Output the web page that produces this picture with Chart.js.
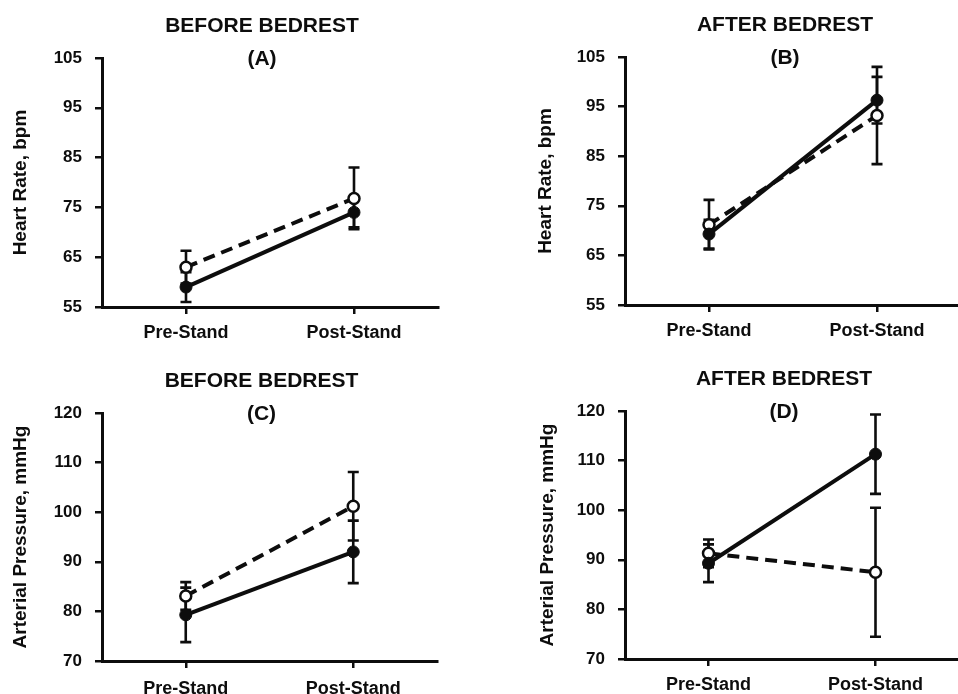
<!DOCTYPE html>
<html><head><meta charset="utf-8">
<script src="https://cdn.jsdelivr.net/npm/chart.js@4.4.1/dist/chart.umd.min.js"></script>
<style>
html,body{margin:0;padding:0;background:#fff;width:958px;height:694px;overflow:hidden;}
#wrap{position:relative;width:958px;height:694px;overflow:hidden;background:#fff;}
canvas{position:absolute;}
</style></head><body>
<div id="wrap">
<canvas id="cA" width="479" height="347" style="left:0px;top:0px"></canvas>
<canvas id="cB" width="482" height="347" style="left:479px;top:0px"></canvas>
<canvas id="cC" width="479" height="347" style="left:0px;top:347px"></canvas>
<canvas id="cD" width="480" height="347" style="left:479px;top:347px"></canvas>
</div>
<script>
// ---- data ----
const categories = ['Pre-Stand', 'Post-Stand'];
const hrTicks = [55, 65, 75, 85, 95, 105];
const mapTicks = [70, 80, 90, 100, 110, 120];

// Heart rate, before bedrest (A)
const hrBeforeFilled = [59, 74];
const hrBeforeFilledErr = [3, 3];
const hrBeforeOpen = [63, 76.8];
const hrBeforeOpenErr = [3.3, 6.2];
// Heart rate, after bedrest (B)
const hrAfterFilled = [69.3, 96.3];
const hrAfterFilledErr = [2.9, 4.7];
const hrAfterOpen = [71.2, 93.2];
const hrAfterOpenErr = [5, 9.8];
// Arterial pressure, before bedrest (C)
const mapBeforeFilled = [79.3, 92];
const mapBeforeFilledErr = [5.5, 6.3];
const mapBeforeOpen = [83.1, 101.2];
const mapBeforeOpenErr = [2.8, 6.9];
// Arterial pressure, after bedrest (D)
const mapAfterFilled = [89.3, 111.3];
const mapAfterFilledErr = [3.8, 8];
const mapAfterOpen = [91.3, 87.5];
const mapAfterOpenErr = [2.8, 13];

const INK = '#0d0d0d';
const FAM = '"Liberation Sans", Arial, Helvetica, sans-serif';

const errorBarPlugin = {
  id: 'errorBars',
  beforeDatasetsDraw(chart, args, opts) {
    const ctx = chart.ctx, ys = chart.scales.y;
    chart.data.datasets.forEach((ds, i) => {
      if (!ds.errors) return;
      const meta = chart.getDatasetMeta(i);
      meta.data.forEach((pt, j) => {
        const v = ds.data[j], e = ds.errors[j];
        const x = pt.x;
        const yt = ys.getPixelForValue(v + e), yb = ys.getPixelForValue(v - e);
        ctx.save();
        ctx.strokeStyle = INK; ctx.lineWidth = opts.width || 2.5;
        ctx.beginPath();
        ctx.moveTo(x, yt); ctx.lineTo(x, yb);
        ctx.moveTo(x - opts.cap, yt); ctx.lineTo(x + opts.cap, yt);
        ctx.moveTo(x - opts.cap, yb); ctx.lineTo(x + opts.cap, yb);
        ctx.stroke();
        ctx.restore();
      });
    });
  }
};

const panelTitlePlugin = {
  id: 'panelTitle',
  afterDraw(chart, args, opts) {
    const {ctx, chartArea} = chart;
    const cx = (chartArea.left + chartArea.right) / 2 + opts.dx;
    ctx.save();
    ctx.fillStyle = INK;
    ctx.font = 'bold 21px ' + FAM;
    ctx.textAlign = 'center';
    ctx.textBaseline = 'middle';
    ctx.fillText(opts.lines[0], cx, chartArea.top - 32);
    ctx.fillText(opts.lines[1], cx, chartArea.top + 1);
    ctx.restore();
  }
};

function makePanel(id, p) {
  const axisGrid = {display: true, drawOnChartArea: false, drawTicks: true, tickLength: 7, color: INK, lineWidth: 2.5};
  const axisBorder = {display: true, color: INK, width: 3};
  new Chart(document.getElementById(id), {
    type: 'line',
    data: {
      labels: categories,
      datasets: [
        {data: p.filled, errors: p.filledErr, borderColor: INK, backgroundColor: INK, borderWidth: 4,
         pointRadius: 6, pointBorderWidth: 1, pointBackgroundColor: INK, pointBorderColor: INK, tension: 0},
        {data: p.open, errors: p.openErr, borderColor: INK, backgroundColor: '#fff', borderWidth: 4, borderDash: [12, 7],
         pointRadius: 5.5, pointBorderWidth: 2.5, pointBackgroundColor: '#fff', pointBorderColor: INK, tension: 0}
      ]
    },
    options: {
      responsive: false, animation: false, devicePixelRatio: 1,
      layout: {autoPadding: false, padding: {left: p.padLeft, top: p.padTop, right: p.padRight, bottom: 0}},
      plugins: {
        legend: {display: false}, tooltip: {enabled: false},
        errorBars: {cap: 5.5, width: 2.6},
        panelTitle: {lines: p.title, dx: -8}
      },
      scales: {
        x: {
          type: 'category', offset: true,
          grid: axisGrid, border: axisBorder,
          ticks: {color: INK, font: {family: FAM, size: 18, weight: 'bold'}, padding: p.xPad, autoSkip: false, maxRotation: 0},
          afterFit(s) { s.height = p.xH; s.paddingLeft = 0; s.paddingRight = 0; }
        },
        y: {
          min: p.ticks[0], max: p.ticks[p.ticks.length - 1],
          grid: axisGrid, border: axisBorder,
          ticks: {stepSize: p.ticks[1] - p.ticks[0], color: INK, font: {family: FAM, size: 17, weight: 'bold'}, padding: 13},
          title: {display: true, text: p.yTitle, color: INK, font: {family: FAM, size: 19, weight: 'bold'}, padding: {top: 9, bottom: 0}},
          afterFit(s) { s.width = p.yW; }
        }
      }
    },
    plugins: [errorBarPlugin, panelTitlePlugin]
  });
}

makePanel('cA', {filled: hrBeforeFilled, filledErr: hrBeforeFilledErr, open: hrBeforeOpen, openErr: hrBeforeOpenErr,
  ticks: hrTicks, yTitle: 'Heart Rate, bpm', title: ['BEFORE BEDREST', '(A)'],
  padLeft: 0, yW: 102, padTop: 58, padRight: 41, xH: 40, xPad: 8});
makePanel('cB', {filled: hrAfterFilled, filledErr: hrAfterFilledErr, open: hrAfterOpen, openErr: hrAfterOpenErr,
  ticks: hrTicks, yTitle: 'Heart Rate, bpm', title: ['AFTER BEDREST', '(B)'],
  padLeft: 46, yW: 100, padTop: 57, padRight: 0, xH: 42, xPad: 8});
makePanel('cC', {filled: mapBeforeFilled, filledErr: mapBeforeFilledErr, open: mapBeforeOpen, openErr: mapBeforeOpenErr,
  ticks: mapTicks, yTitle: 'Arterial Pressure, mmHg', title: ['BEFORE BEDREST', '(C)'],
  padLeft: 0, yW: 102, padTop: 66, padRight: 42, xH: 33, xPad: 10});
makePanel('cD', {filled: mapAfterFilled, filledErr: mapAfterFilledErr, open: mapAfterOpen, openErr: mapAfterOpenErr,
  ticks: mapTicks, yTitle: 'Arterial Pressure, mmHg', title: ['AFTER BEDREST', '(D)'],
  padLeft: 48, yW: 98, padTop: 64, padRight: 0, xH: 35, xPad: 8});
</script>
</body></html>
